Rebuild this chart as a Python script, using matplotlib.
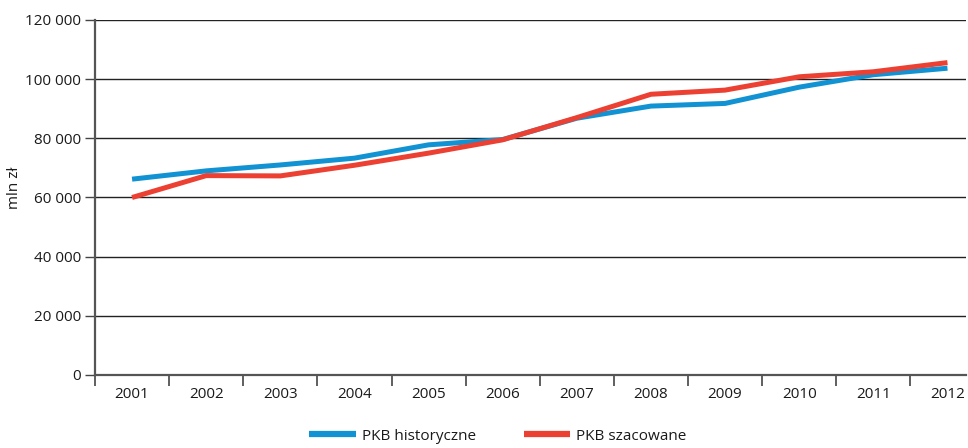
import matplotlib
matplotlib.use('Agg')
import matplotlib.pyplot as plt
from matplotlib.lines import Line2D
from matplotlib.ticker import FuncFormatter

FONT = 'Open Sans'
BLUE = '#1192d3'
RED = '#ec4033'
TEXT = '#1a1a1a'

years = ['2001', '2002', '2003', '2004', '2005', '2006',
         '2007', '2008', '2009', '2010', '2011', '2012']
pkb_hist = [66200, 69000, 71000, 73300, 77800, 79600,
            86800, 90900, 91800, 97300, 101500, 103700]
pkb_szac = [60000, 67400, 67300, 70900, 75000, 79500,
            87000, 94900, 96300, 100800, 102500, 105600]

plt.rcParams['font.family'] = [FONT, 'DejaVu Sans']

fig = plt.figure(figsize=(9.68, 4.48), dpi=100)
ax = fig.add_axes([95 / 968, 1 - 375 / 448, 871 / 968, 355 / 448])

x = range(len(years))
ax.plot(x, pkb_hist, color=BLUE, lw=3.6, solid_capstyle='butt', zorder=3)
ax.plot(x, pkb_szac, color=RED, lw=3.6, solid_capstyle='butt', zorder=4)

ax.set_ylim(0, 120000)
ax.set_xlim(-0.5, 11.25)
ax.set_yticks(range(0, 120001, 20000))
ax.yaxis.set_major_formatter(FuncFormatter(lambda v, p: f'{int(v):,}'.replace(',', ' ')))
ax.grid(axis='y', color='#222222', lw=1.0, zorder=1)

# year labels centred in each category, tick marks on the boundaries
ax.set_xticks(list(x))
ax.set_xticklabels(years)
ax.set_xticks([i - 0.5 for i in range(len(years))], minor=True)
ax.tick_params(axis='x', which='major', length=0, pad=9, labelsize=11, labelcolor=TEXT)
ax.tick_params(axis='x', which='minor', length=8, width=1.2, color='#444444')
ax.tick_params(axis='y', length=7, width=1.0, color='#444444', pad=3,
               labelsize=11, labelcolor=TEXT)

for side in ('top', 'right'):
    ax.spines[side].set_visible(False)
for side in ('left', 'bottom'):
    ax.spines[side].set_color('#555555')
    ax.spines[side].set_linewidth(1.6)

fig.text(15 / 968, 1 - 188 / 448, 'mln zł', rotation=90, ha='center', va='center',
         fontsize=11, color=TEXT)

handles = [Line2D([], [], color=BLUE, lw=4.5, solid_capstyle='butt'),
           Line2D([], [], color=RED, lw=4.5, solid_capstyle='butt')]
fig.legend(handles, ['PKB historyczne', 'PKB szacowane'], loc='center',
           bbox_to_anchor=(498 / 968, 1 - 436 / 448), ncol=2, frameon=False,
           fontsize=11, handlelength=3.05, handletextpad=0.4, columnspacing=3.1,
           labelcolor=TEXT)

fig.savefig('out.png', dpi=100, facecolor='white')
